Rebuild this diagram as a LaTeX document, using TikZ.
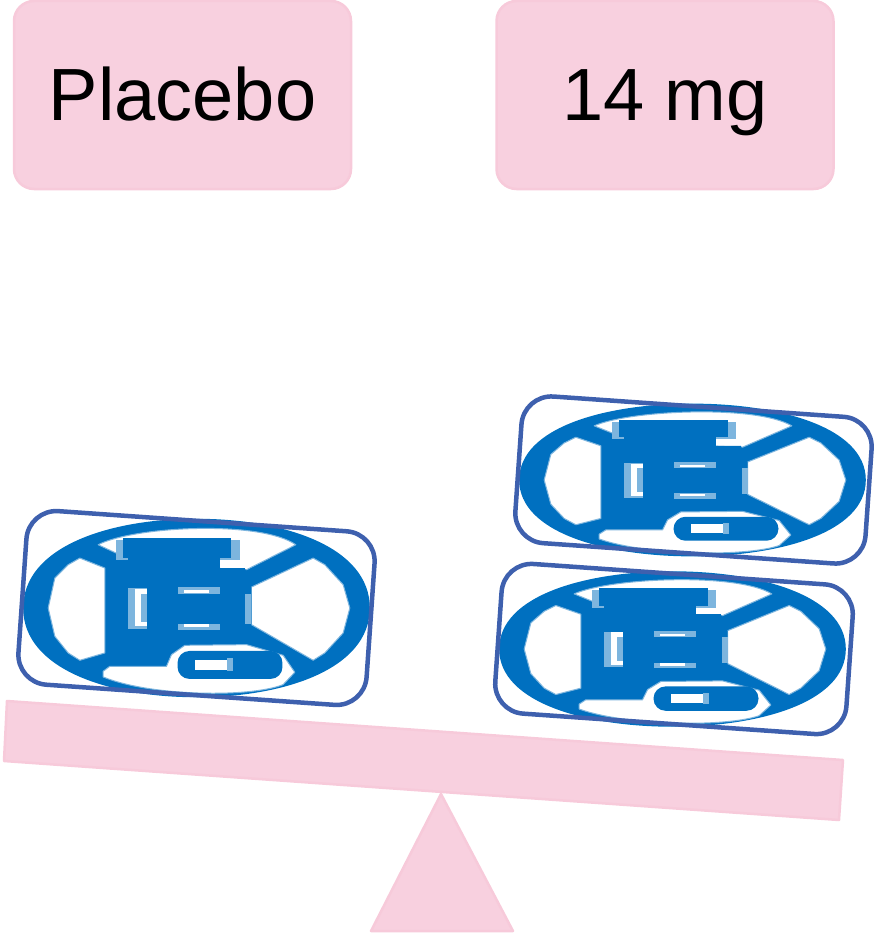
\documentclass[tikz,border=0pt]{standalone}
\usepackage{fontspec}
\setmainfont{Liberation Sans}
\definecolor{pinkfill}{HTML}{F8D0DF}
\definecolor{pinkedge}{HTML}{F7CADA}
\definecolor{iconblue}{HTML}{0070C0}
\definecolor{iconlight}{HTML}{7DB5DE}
\definecolor{framelue}{HTML}{3E60AE}
\tikzset{
  labelbox/.style={draw=pinkedge,line width=2.5pt,fill=pinkfill,rounded corners=20pt,minimum width=337pt,minimum height=188pt,inner sep=0pt,font=\fontsize{74}{80}\selectfont,text=black,text height=55pt,text depth=5pt},
  pinkshape/.style={draw=pinkedge,line width=2.5pt,fill=pinkfill,line join=round},
  pillframe/.style={draw=framelue,line width=4.5pt,rounded corners=30pt,rotate=-4,inner sep=0pt},
  wh/.style={fill=white,draw=iconlight,line width=1pt,line join=round},
  bl/.style={fill=iconblue},
  lt/.style={fill=iconlight}
}
\newcommand{\pillicon}[3]{%
\begin{scope}[shift={(#1,#2)},xscale=0.3333,yscale=#3,shift={(-590,-355)}]
  % outer ring
  \fill[bl] (70,355) .. controls (70,170) and (330,87) .. (590,87)
            .. controls (850,87) and (1110,170) .. (1110,355)
            .. controls (1110,540) and (850,623) .. (590,623)
            .. controls (330,623) and (70,540) .. (70,355) -- cycle;
  % lobes
  \filldraw[wh] (240,205) -- (315,235) -- (315,490) -- (240,512) -- (205,490) -- (165,440) -- (145,355) -- (165,265) -- (205,225) -- cycle;
  \filldraw[wh] (940,205) -- (975,225) -- (1030,285) -- (1050,355) -- (1030,430) -- (975,490) -- (940,512) -- (755,405) -- (755,292) -- cycle;
  % top crescent
  \filldraw[wh] (295,165) .. controls (400,110) and (780,90) .. (888,165) -- (740,240) -- (420,225) -- (370,200) -- cycle;
  \fill[lt] (348,150) rectangle (720,212);
  \fill[bl] (370,145) rectangle (695,205);
  \fill[bl] (385,195) rectangle (660,240);
  % body
  \fill[bl] (330,235) -- (735,235) -- (735,470) -- (330,530) -- cycle;
  \fill[bl] (330,400) rectangle (500,528);
  \fill[bl] (735,235) -- (755,292) -- (755,405) -- (735,425) -- cycle;
  \fill[lt] (737,312) rectangle (755,403);
  % bottom crescent with the halo of the small capsule
  \filldraw[wh] (310,545) -- (330,530) -- (500,530) -- (515,495) -- (555,467) -- (740,465) -- (850,497) -- (885,548) -- (850,585) .. controls (750,625) and (450,620) .. (310,562) -- cycle;
  % small capsule
  \fill[bl,rounded corners=12pt] (533,484) rectangle (848,568);
  \fill[wh,draw=none] (585,510) rectangle (682,542);
  \fill[lt] (682,505) rectangle (700,545);
  % inner details
  \fill[lt] (385,295) rectangle (458,418);
  \fill[wh,draw=none] (405,298) rectangle (440,410);
  \fill[lt] (423,312) rectangle (442,398);
  \fill[bl] (442,295) rectangle (735,420);
  \fill[lt] (533,292) rectangle (660,312);
  \fill[wh,draw=none] (552,302) rectangle (628,311);
  \fill[lt] (533,402) rectangle (660,422);
  \fill[wh,draw=none] (552,403) rectangle (628,412);
\end{scope}}
\begin{document}
\begin{tikzpicture}[x=1pt,y=-1pt]
\useasboundingbox (0,0) rectangle (874,934);
\node[labelbox] (placebo) at (182.5,95) {Placebo};
\node[labelbox] (dose) at (665,95) {14 mg};
\pillicon{196.5}{608}{0.333}
\pillicon{692.5}{480}{0.285}
\pillicon{672.5}{649}{0.29}
\node[pillframe,minimum width=349pt,minimum height=174pt] (pillL) at (196.5,608) {};
\node[pillframe,minimum width=351pt,minimum height=147pt] (pillU) at (693.5,480) {};
\node[pillframe,minimum width=352pt,minimum height=150pt] (pillD) at (674,649) {};
\draw[pinkshape] (441,794) -- (513,931) -- (371,931) -- cycle;
\draw[pinkshape] (7,701) -- (843,760) -- (839,820) -- (4,761) -- cycle;
\end{tikzpicture}
\end{document}
